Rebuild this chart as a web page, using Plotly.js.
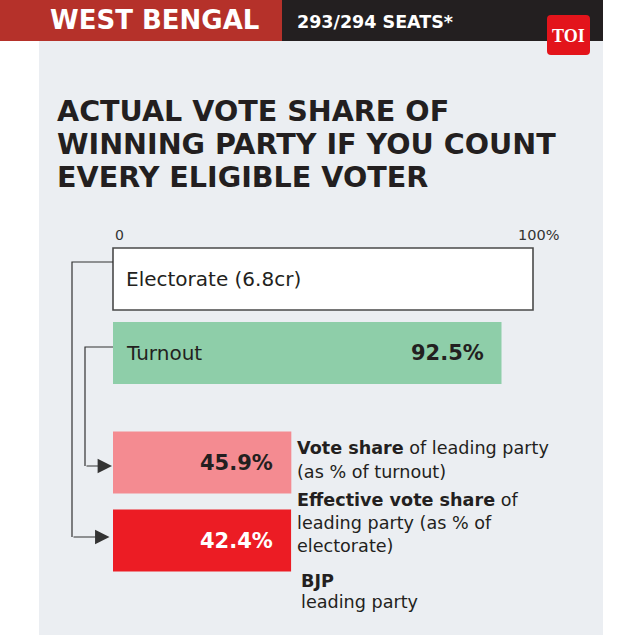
<!DOCTYPE html>
<html>
<head>
<meta charset="utf-8">
<script src="https://cdn.plot.ly/plotly-3.0.1.min.js"></script>
<style>html,body{margin:0;padding:0;background:#fff;}#chart{width:635px;height:635px;}</style>
</head>
<body>
<div id="chart"></div>
<script>
// ---- data ----
const categories = ["Electorate (6.8cr)", "Turnout", "Vote share of leading party", "Effective vote share of leading party"];
const shareLabels = ["", "92.5%", "45.9%", "42.4%"];
const shareValues = [100, 92.5, 45.9, 42.4];          // as printed
const turnoutPct = 92.5;
const leadingParty = "BJP";
const tickVals = [0, 100];
const tickText = ["0", "100%"];

// bar lengths on the common electorate scale (vote share is % of turnout)
const barLengths = [shareValues[0], shareValues[1], shareValues[2] * turnoutPct / 100, shareValues[3]];

// ---- layout constants (pixels) ----
const W = 635, H = 635;
const X0 = 113, PXPER = 4.2;                 // 0% at 113px, 4.2 px per %
const xr = [(0 - X0) / PXPER, (W - X0) / PXPER];
const barCenters = [279, 353, 462.5, 540.5];
const barWidth = 62;
const fills = ["#ffffff", "#8ecea9", "#f48b91", "#ec1c24"];
const lineW = [1.6, 0, 0, 0];
const FONT = "DejaVu Sans";
const DARK = "#231f20";
const dx = px => (px - X0) / PXPER;
const px = p => p / W;
const py = p => 1 - p / H;

const trace = {
  type: "bar", orientation: "h",
  x: barLengths, y: barCenters, width: barWidth,
  marker: {color: fills, line: {color: "#4a4a4a", width: lineW}},
  hoverinfo: "skip", showlegend: false
};

const ann = [];
// header texts
ann.push({xref:"paper", yref:"paper", x:px(48), y:py(20), xanchor:"left", yanchor:"middle", showarrow:false,
  text:"<b>WEST BENGAL</b>", font:{family:FONT, size:26, color:"#fff"}});
ann.push({xref:"paper", yref:"paper", x:px(295), y:py(22), xanchor:"left", yanchor:"middle", showarrow:false,
  text:"<b>293/294 SEATS*</b>", font:{family:FONT, size:17.5, color:"#fff"}});
ann.push({xref:"paper", yref:"paper", x:px(568), y:py(36), xanchor:"center", yanchor:"middle", showarrow:false,
  text:"<b>TOI</b>", font:{family:"Liberation Serif", size:18, color:"#fff"}});
// title
const titleLines = ["ACTUAL VOTE SHARE OF", "WINNING PARTY IF YOU COUNT", "EVERY ELIGIBLE VOTER"];
titleLines.forEach((t, i) => ann.push({xref:"paper", yref:"paper", x:px(55), y:py(111 + i * 33), xanchor:"left", yanchor:"middle",
  showarrow:false, text:"<b>" + t + "</b>", font:{family:FONT, size:28.6, color:DARK}}));
// axis tick labels
ann.push({xref:"x", yref:"y", x:tickVals[0], y:235, xanchor:"left", yanchor:"middle", showarrow:false,
  text:tickText[0], font:{family:FONT, size:14, color:"#333"}});
ann.push({xref:"x", yref:"y", x:tickVals[1], y:235, xanchor:"center", yanchor:"middle", xshift:5, showarrow:false,
  text:tickText[1], font:{family:FONT, size:14.5, color:"#333"}});
// in-bar labels
ann.push({xref:"x", yref:"y", x:0, y:barCenters[0], xanchor:"left", yanchor:"middle", xshift:11, showarrow:false,
  text:categories[0], font:{family:FONT, size:20, color:DARK}});
ann.push({xref:"x", yref:"y", x:0, y:barCenters[1], xanchor:"left", yanchor:"middle", xshift:11, showarrow:false,
  text:categories[1], font:{family:FONT, size:20, color:DARK}});
ann.push({xref:"x", yref:"y", x:barLengths[1], y:barCenters[1], xanchor:"right", yanchor:"middle", xshift:-16, showarrow:false,
  text:"<b>" + shareLabels[1] + "</b>", font:{family:FONT, size:21, color:DARK}});
ann.push({xref:"x", yref:"y", x:barLengths[2], y:barCenters[2], xanchor:"right", yanchor:"middle", xshift:-16, showarrow:false,
  text:"<b>" + shareLabels[2] + "</b>", font:{family:FONT, size:21, color:DARK}});
ann.push({xref:"x", yref:"y", x:barLengths[3], y:barCenters[3], xanchor:"right", yanchor:"middle", xshift:-16, showarrow:false,
  text:"<b>" + shareLabels[3] + "</b>", font:{family:FONT, size:21, color:"#fff"}});
// side descriptions
const sideFont = {family:FONT, size:17.6, color:DARK};
const side = [
  [295, 448, "<b>Vote share</b> of leading party"],
  [295, 472, "(as % of turnout)"],
  [295, 500, "<b>Effective vote share</b> of"],
  [295, 523, "leading party (as % of"],
  [295, 546, "electorate)"],
  [299, 581, "<b>" + leadingParty + "</b>"],
  [299, 602, "leading party"]
];
side.forEach(s => ann.push({xref:"paper", yref:"paper", x:px(s[0]), y:py(s[1]), xanchor:"left", yanchor:"middle",
  showarrow:false, text:s[2], font:sideFont}));
// arrows
ann.push({xref:"x", yref:"y", x:0, y:466, ax:dx(85), ay:466, axref:"x", ayref:"y", text:"", showarrow:true,
  arrowhead:2, arrowsize:2.4, arrowwidth:1.2, arrowcolor:"#333", standoff:1});
ann.push({xref:"x", yref:"y", x:-0.6, y:537, ax:dx(72), ay:537, axref:"x", ayref:"y", text:"", showarrow:true,
  arrowhead:2, arrowsize:2.4, arrowwidth:1.2, arrowcolor:"#333", standoff:1});

const shapes = [
  {type:"rect", xref:"paper", yref:"paper", x0:px(39), x1:px(603), y0:py(635), y1:py(41), fillcolor:"#ebeef2", line:{width:0}, layer:"below"},
  {type:"rect", xref:"paper", yref:"paper", x0:px(0), x1:px(282), y0:py(41), y1:py(0), fillcolor:"#b5312a", line:{width:0}, layer:"below"},
  {type:"rect", xref:"paper", yref:"paper", x0:px(282), x1:px(603), y0:py(41), y1:py(0), fillcolor:"#231f20", line:{width:0}, layer:"below"},
  {type:"path", xref:"x", yref:"y",
   path:`M ${dx(551)} 15 L ${dx(586)} 15 Q ${dx(590)} 15 ${dx(590)} 19 L ${dx(590)} 51 Q ${dx(590)} 55 ${dx(586)} 55 L ${dx(551)} 55 Q ${dx(547)} 55 ${dx(547)} 51 L ${dx(547)} 19 Q ${dx(547)} 15 ${dx(551)} 15 Z`,
   fillcolor:"#e3141b", line:{width:0}, layer:"below"},
  {type:"path", xref:"x", yref:"y", path:`M 0 262 L ${dx(72)} 262 L ${dx(72)} 537`, line:{color:"#333", width:1.2}},
  {type:"path", xref:"x", yref:"y", path:`M 0 347 L ${dx(85)} 347 L ${dx(85)} 466`, line:{color:"#333", width:1.2}}
];

const layout = {
  width: W, height: H,
  margin: {l:0, r:0, t:0, b:0},
  paper_bgcolor: "#ffffff", plot_bgcolor: "rgba(0,0,0,0)",
  xaxis: {range: xr, visible: false, fixedrange: true},
  yaxis: {range: [H, 0], visible: false, fixedrange: true},
  annotations: ann, shapes: shapes,
  font: {family: FONT}
};

Plotly.newPlot("chart", [trace], layout, {displayModeBar: false, staticPlot: true});
</script>
</body>
</html>
